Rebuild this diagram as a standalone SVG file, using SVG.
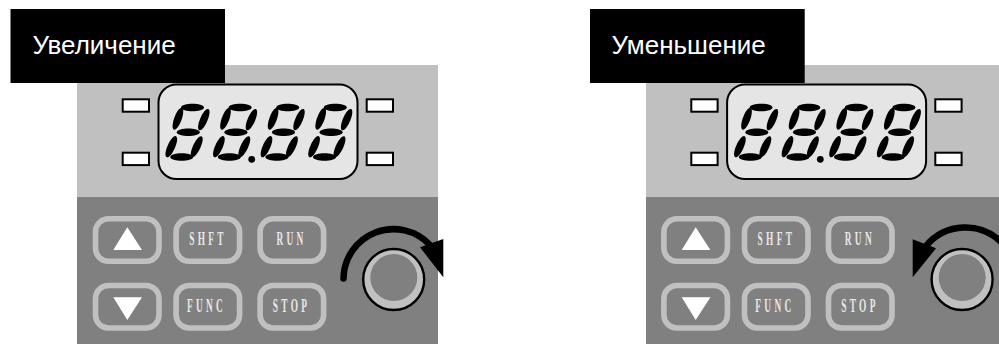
<svg xmlns="http://www.w3.org/2000/svg" width="999" height="344" viewBox="0 0 999 344">
<style>
.light{fill:#c0c0c0}
.dark{fill:#808080}
.tag{fill:#000}
.tagtext{font-family:"Liberation Sans",Arial,sans-serif;font-size:26px;fill:#fff}
.led{fill:#fff;stroke:#000;stroke-width:2}
.lcd{fill:#e5e5e5;stroke:#000;stroke-width:2}
.btn{fill:none;stroke:#c0c0c0;stroke-width:5.6}
.tri{fill:#fff}
.cap{font-family:"Liberation Serif","Times New Roman",serif;font-size:13px;font-weight:700;fill:#e8e8e8;text-anchor:middle;letter-spacing:4.6px}
.ring{fill:#c0c0c0;stroke:#000;stroke-width:2.4}
.arc{fill:none;stroke:#000;stroke-width:6.5;stroke-linecap:round}
</style>
<defs>
<path id="seg" d="M-11.5 0C-11-5 11-5 11.5 0C11 5-11 5-11.5 0Z"/>
<g id="digit">
<use href="#seg" transform="translate(192.5 107.6)"/>
<use href="#seg" transform="translate(177.9 118.9) rotate(110)"/>
<use href="#seg" transform="translate(203.8 119.7) rotate(113)"/>
<use href="#seg" transform="translate(188.3 132.3)"/>
<use href="#seg" transform="translate(171.3 146.7) rotate(114)"/>
<use href="#seg" transform="translate(196.7 146.7) rotate(115)"/>
<use href="#seg" transform="translate(181.7 157)"/>
</g>
<g id="display">
<rect class="lcd" x="158.5" y="84.5" width="199" height="94.5" rx="18"/>
<use href="#digit"/>
<use href="#digit" x="47.6"/>
<use href="#digit" x="95.2"/>
<use href="#digit" x="142.8"/>
<circle cx="251.7" cy="159.3" r="3.4"/>
</g>
<g id="leds">
<rect class="led" x="122.7" y="99.3" width="26.3" height="12.4"/>
<rect class="led" x="122.7" y="152.7" width="26.3" height="12.4"/>
<rect class="led" x="366.7" y="99.3" width="26.3" height="12.4"/>
<rect class="led" x="366.7" y="152.7" width="26.3" height="12.4"/>
</g>
<g id="knob">
<circle class="ring" cx="393.7" cy="279.5" r="30.5"/>
<circle class="dark" cx="393.8" cy="277.5" r="23.5"/>
</g>
</defs>

<g id="panel-increase">
<rect class="light" x="77" y="65" width="361" height="132"/>
<rect class="dark" x="77" y="197" width="361" height="147"/>
</g>
<g id="label-increase">
<rect class="tag" x="10.5" y="9" width="214.5" height="74"/>
<text class="tagtext" x="32.5" y="54">Увеличение</text>
</g>
<g id="display-increase">
<use href="#leds"/>
<use href="#display"/>
</g>
<g id="btn-up-increase">
<rect class="btn" x="95.5" y="218.8" width="63.5" height="42.5" rx="13"/>
<polygon class="tri" points="127.3,227.3 113.3,250 142,250"/>
</g>
<g id="btn-shft-increase">
<rect class="btn" x="176.1" y="218.8" width="63.5" height="42.5" rx="13"/>
<text class="cap" transform="translate(208 245) scale(0.72 1.4)">SHFT</text>
</g>
<g id="btn-run-increase">
<rect class="btn" x="260.1" y="218.8" width="63.5" height="42.5" rx="13"/>
<text class="cap" transform="translate(291.5 245) scale(0.72 1.4)">RUN</text>
</g>
<g id="btn-down-increase">
<rect class="btn" x="95.5" y="285.5" width="63.5" height="42.5" rx="13"/>
<polygon class="tri" points="127.3,320 113.3,297.3 142,297.3"/>
</g>
<g id="btn-func-increase">
<rect class="btn" x="176.1" y="285.5" width="63.5" height="42.5" rx="13"/>
<text class="cap" transform="translate(206.5 312) scale(0.72 1.4)">FUNC</text>
</g>
<g id="btn-stop-increase">
<rect class="btn" x="260.1" y="285.5" width="63.5" height="42.5" rx="13"/>
<text class="cap" transform="translate(291.5 312) scale(0.72 1.4)">STOP</text>
</g>
<g id="knob-increase"><use href="#knob"/></g>
<g id="connector-increase">
<path class="arc" d="M343.5 278.5A50 50 0 0 1 430 245"/>
<polygon points="420,247.3 443.3,239 443.3,277.3"/>
</g>

<g id="panel-decrease">
<rect class="light" x="646" y="65" width="353" height="132"/>
<rect class="dark" x="646" y="197" width="353" height="147"/>
</g>
<g id="label-decrease">
<rect class="tag" x="590" y="9" width="214.7" height="74"/>
<text class="tagtext" x="611.5" y="54">Уменьшение</text>
</g>
<g id="display-decrease" transform="translate(568.6 0)">
<use href="#leds"/>
<use href="#display"/>
</g>
<g transform="translate(568.4 0)">
<g id="btn-up-decrease">
<rect class="btn" x="95.5" y="218.8" width="63.5" height="42.5" rx="13"/>
<polygon class="tri" points="127.3,227.3 113.3,250 142,250"/>
</g>
<g id="btn-shft-decrease">
<rect class="btn" x="176.1" y="218.8" width="63.5" height="42.5" rx="13"/>
<text class="cap" transform="translate(208 245) scale(0.72 1.4)">SHFT</text>
</g>
<g id="btn-run-decrease">
<rect class="btn" x="260.1" y="218.8" width="63.5" height="42.5" rx="13"/>
<text class="cap" transform="translate(291.5 245) scale(0.72 1.4)">RUN</text>
</g>
<g id="btn-down-decrease">
<rect class="btn" x="95.5" y="285.5" width="63.5" height="42.5" rx="13"/>
<polygon class="tri" points="127.3,320 113.3,297.3 142,297.3"/>
</g>
<g id="btn-func-decrease">
<rect class="btn" x="176.1" y="285.5" width="63.5" height="42.5" rx="13"/>
<text class="cap" transform="translate(206.5 312) scale(0.72 1.4)">FUNC</text>
</g>
<g id="btn-stop-decrease">
<rect class="btn" x="260.1" y="285.5" width="63.5" height="42.5" rx="13"/>
<text class="cap" transform="translate(291.5 312) scale(0.72 1.4)">STOP</text>
</g>
<g id="knob-decrease"><use href="#knob"/></g>
</g>
<g id="connector-decrease">
<path class="arc" d="M1002 243A51 51 0 0 0 926 246"/>
<polygon points="912.7,239.3 936,248.3 912.7,277.3"/>
</g>
</svg>
